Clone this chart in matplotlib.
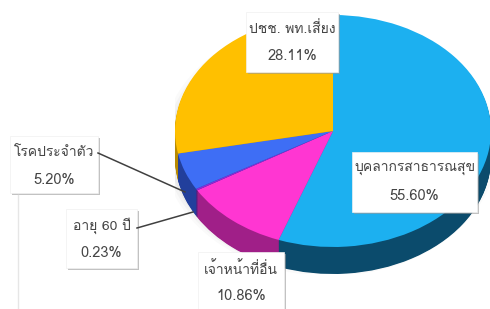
import matplotlib
matplotlib.use("Agg")
import matplotlib.pyplot as plt
from matplotlib.patches import Rectangle, Ellipse
import numpy as np

plt.rcParams['font.family'] = ['Loma', 'DejaVu Sans']

# slices, clockwise from 12 o'clock
labels = ['บุคลากรสาธารณสุข', 'เจ้าหน้าที่อื่น', 'อายุ 60 ปี', 'โรคประจำตัว', 'ปชช. พท.เสี่ยง']
values = [55.60, 10.86, 0.23, 5.20, 28.11]
top_colors = ['#1CB0F0', '#FF36D2', '#8A2BD8', '#3E6EF5', '#FFC000']
side_colors = ['#0B4B6C', '#A01F88', '#55207F', '#223F9C', '#B88A00']

# label boxes in pixels (x0, y0, x1, y1), same order as labels
boxes = [(352, 152, 477, 212), (198, 252, 284, 312), (66, 209, 137, 268),
         (10, 136, 98, 193), (246, 12, 338, 72)]
leaders = {2: ((137, 228), (193, 212)), 3: ((98, 153), (185, 192))}

W, H = 490, 309
fig = plt.figure(figsize=(W / 100, H / 100), dpi=100)

# pie centre / radii in pixels
cx, cy, rx, ry, depth = 333, 131, 158, 116, 27
ybot = cy + ry + depth
pie_ax = fig.add_axes([(cx - rx) / W, (H - ybot) / H, 2 * rx / W, (ybot - (cy - ry)) / H])

# soft shadow
for k, a in [(1.06, 0.04), (1.04, 0.05), (1.02, 0.07)]:
    pie_ax.add_patch(Ellipse((-0.02, -0.14), 2 * k, 2 * k + 0.1, color='#808080',
                             alpha=a, lw=0))

# side wall: stack of darker pies
for d in np.linspace(depth / ry, 0.01, 40):
    pie_ax.pie(values, colors=side_colors, startangle=90, counterclock=False,
               center=(0, -d), wedgeprops=dict(linewidth=0))
pie_ax.pie(values, colors=top_colors, startangle=90, counterclock=False,
           wedgeprops=dict(linewidth=0))
pie_ax.set_aspect('auto')
pie_ax.set_xlim(-1, 1)
pie_ax.set_ylim(-1 - depth / ry, 1)
pie_ax.axis('off')

# overlay in pixel coords
ax = fig.add_axes([0, 0, 1, 1])
ax.set_xlim(0, W)
ax.set_ylim(H, 0)
ax.axis('off')
ax.patch.set_alpha(0)

ax.plot([18, 18], [195, H], color='#e6e6e6', lw=1)

for i, (p0, p1) in leaders.items():
    ax.plot([p0[0], p1[0]], [p0[1], p1[1]], color='#404040', lw=1.1)

for lab, val, (x0, y0, x1, y1) in zip(labels, values, boxes):
    ax.add_patch(Rectangle((x0 + 2, y0 + 2), x1 - x0, y1 - y0, color='#9a9a9a',
                           alpha=0.6, lw=0))
    ax.add_patch(Rectangle((x0, y0), x1 - x0, y1 - y0, facecolor='white',
                           edgecolor='#f0f0f0', lw=0.5))
    xc = (x0 + x1) / 2
    ax.text(xc, y0 + 17, lab, ha='center', va='center', fontsize=10, color='#454545')
    ax.text(xc, y0 + 44, '%.2f%%' % val, ha='center', va='center', fontsize=10.5,
            color='#454545')

fig.savefig('out.png', dpi=100)
